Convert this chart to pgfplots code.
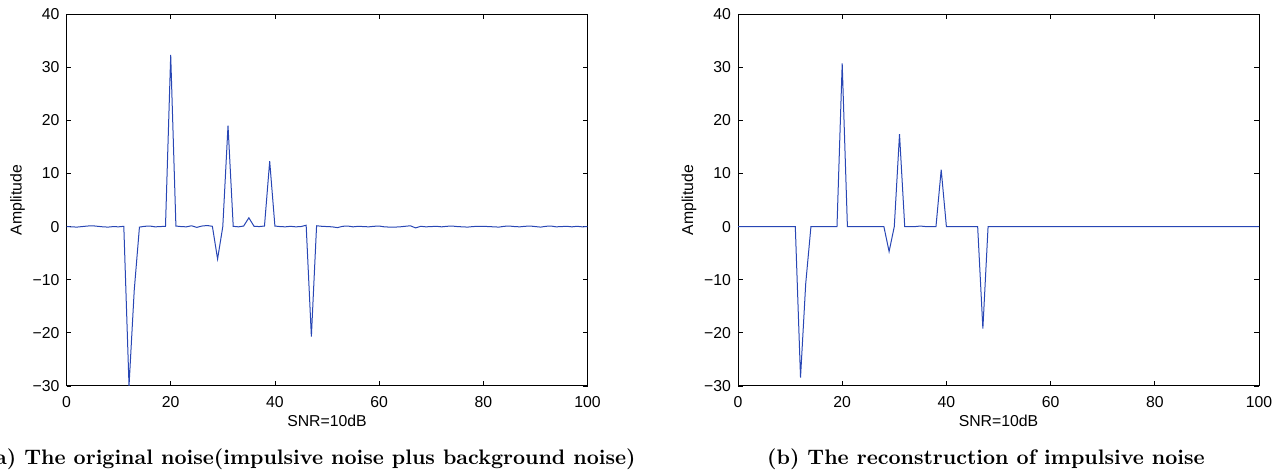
\documentclass[border=0pt]{standalone}
\usepackage{fontspec}
\usepackage{pgfplots}
\pgfplotsset{compat=1.18}
\newfontfamily\arial{Liberation Sans}
\definecolor{mlblue}{RGB}{40,70,180}

\pgfplotsset{
  noiseplot/.style={
    scale only axis,
    width=260.5pt, height=186pt,
    xmin=0, xmax=100, ymin=-30, ymax=40,
    xtick={0,20,...,100}, ytick={-30,-20,...,40},
    yticklabels={−30,−20,−10,0,10,20,30,40},
    tick align=inside, major tick length=2.4pt,
    axis line style={line width=0.5pt},
    every tick/.style={black, line width=0.4pt},
    tick label style={font=\arial\fontsize{7.9}{9}\selectfont},
    xticklabel style={yshift=-1.6pt},
    xlabel={SNR=10dB}, ylabel={Amplitude},
    every axis x label/.style={at={(axis description cs:0.5,-0.094)}, anchor=center,
      font=\arial\fontsize{7.9}{9}\selectfont},
    every axis y label/.style={at={(axis description cs:-0.094,0.5)}, anchor=center, rotate=90,
      font=\arial\fontsize{7.9}{9}\selectfont},
    /pgf/number format/assume math mode=true,
    clip=true,
  }
}

\begin{document}
\begin{tikzpicture}
\useasboundingbox (0,0) rectangle (640.5pt,235pt);
\clip (0,0) rectangle (640.5pt,235pt);

% (a) original noise
\begin{axis}[noiseplot, at={(33.25pt,42pt)}, anchor=south west]
\addplot[mlblue, line width=0.5pt] coordinates {
(0,0.0) (1,-0.05) (2,-0.1) (3,0.0) (4,0.1) (5,0.15) (6,0.05) (7,-0.05) (8,-0.1) (9,0.0)
(10,-0.05) (11,0.05) (12,-30.0) (13,-12.0) (14,-0.1) (15,0.05) (16,0.1) (17,-0.05) (18,0.0) (19,0.05)
(20,32.3) (21,0.1) (22,0.0) (23,-0.05) (24,0.15) (25,-0.15) (26,0.1) (27,0.2) (28,0.05) (29,-6.1)
(30,0.0) (31,19.0) (32,0.05) (33,-0.05) (34,0.1) (35,1.65) (36,0.05) (37,0.0) (38,0.1) (39,12.3)
(40,0.1) (41,0.0) (42,-0.05) (43,0.05) (44,-0.05) (45,0.0) (46,0.25) (47,-20.7) (48,0.15) (49,0.05)
(50,0.0) (51,-0.05) (52,-0.2) (53,0.05) (54,0.1) (55,-0.05) (56,0.05) (57,0.0) (58,-0.05) (59,0.05)
(60,0.1) (61,-0.05) (62,-0.1) (63,-0.1) (64,-0.05) (65,0.05) (66,0.15) (67,-0.25) (68,0.05) (69,-0.05)
(70,0.0) (71,0.05) (72,-0.05) (73,0.05) (74,0.1) (75,0.0) (76,-0.05) (77,-0.1) (78,0.0) (79,0.05)
(80,0.05) (81,0.0) (82,-0.05) (83,-0.1) (84,0.05) (85,0.1) (86,0.0) (87,-0.05) (88,0.05) (89,0.1)
(90,0.0) (91,-0.1) (92,0.05) (93,0.1) (94,-0.05) (95,0.0) (96,0.05) (97,-0.05) (98,0.05) (99,-0.05)
(100,0.0)
};
\end{axis}

% (b) reconstruction
\begin{axis}[noiseplot, at={(369pt,42pt)}, anchor=south west]
\addplot[mlblue, line width=0.5pt] coordinates {
(0,0) (11,0) (12,-28.4) (13,-10.7) (14,0) (19,0) (20,30.7) (21,0)
(28,0) (29,-4.7) (30,0) (31,17.4) (32,0) (34,0) (35,0.1) (36,0) (38,0) (39,10.7) (40,0)
(46,0) (47,-19.2) (48,0) (100,0)
};
\end{axis}

\node[anchor=base east, inner sep=0pt, font=\bfseries\fontsize{10.5}{12.5}\selectfont] at (318pt,2.5pt)
  {(a) The original noise(impulsive noise plus background noise)};
\node[anchor=base, inner sep=0pt, font=\bfseries\fontsize{10.5}{12.5}\selectfont] at (493pt,2.5pt)
  {(b) The reconstruction of impulsive noise};
\end{tikzpicture}
\end{document}
